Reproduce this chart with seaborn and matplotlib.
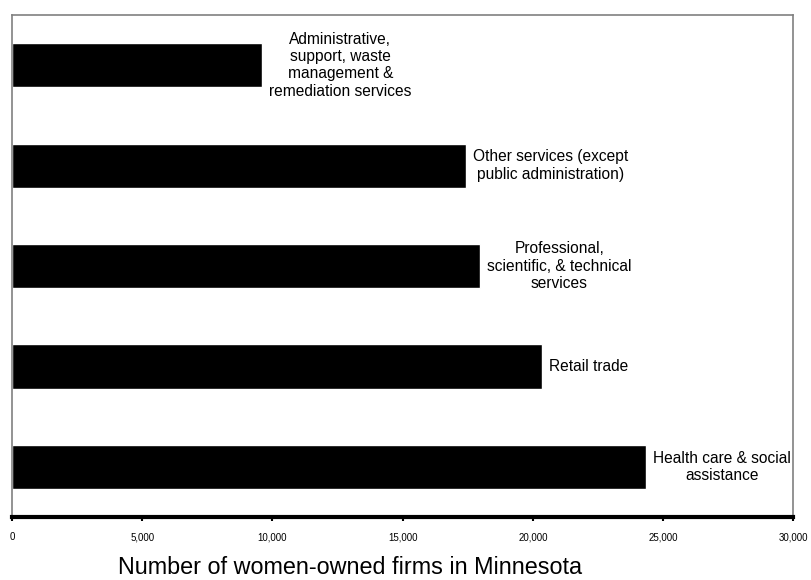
import matplotlib
matplotlib.use("Agg")
import matplotlib.pyplot as plt
import seaborn as sns
import pandas as pd

categories = [
    "Administrative,\nsupport, waste\nmanagement &\nremediation services",
    "Other services (except\npublic administration)",
    "Professional,\nscientific, & technical\nservices",
    "Retail trade",
    "Health care & social\nassistance",
]
values = [9600, 17450, 17980, 20360, 24350]
xticks = [0, 5000, 10000, 15000, 20000, 25000, 30000]

sns.set_theme(style="white")
plt.rcParams["font.family"] = ["Liberation Sans", "DejaVu Sans"]
plt.rcParams["text.color"] = "black"
plt.rcParams["xtick.color"] = "black"
plt.rcParams["axes.labelcolor"] = "black"

df = pd.DataFrame({"cat": categories, "val": values})

fig = plt.figure(figsize=(8.11, 5.8), dpi=100)
ax = fig.add_axes([0.015, 0.1086, 0.963, 0.8655])
sns.barplot(data=df, x="val", y="cat", color="black", width=0.44, ax=ax,
            saturation=1, orient="h")
ax.set_xlim(0, 30000)
ax.set_ylim(4.5, -0.5)
ax.set_xticks(xticks)
ax.set_xticklabels([f"{v:,}" for v in xticks], fontsize=7)
ax.set_yticks([])
ax.set_ylabel("")
ax.set_xlabel("Number of women-owned firms in Minnesota", fontsize=16.8)
ax.xaxis.set_label_coords(0.433, -0.078)
for side in ["left", "top", "right"]:
    ax.spines[side].set_color("#808080")
    ax.spines[side].set_linewidth(1.2)
ax.spines["bottom"].set_color("black")
ax.spines["bottom"].set_linewidth(3)
ax.tick_params(axis="x", bottom=True, direction="out", length=3, width=1.5,
               color="black", pad=8)

for i, (c, v) in enumerate(zip(categories, values)):
    ax.annotate(c, xy=(v, i), xytext=(5, 0), textcoords="offset points",
                ha="left", va="center", multialignment="center", fontsize=11.2,
                linespacing=1.2)

fig.savefig("out.png", dpi=100)
